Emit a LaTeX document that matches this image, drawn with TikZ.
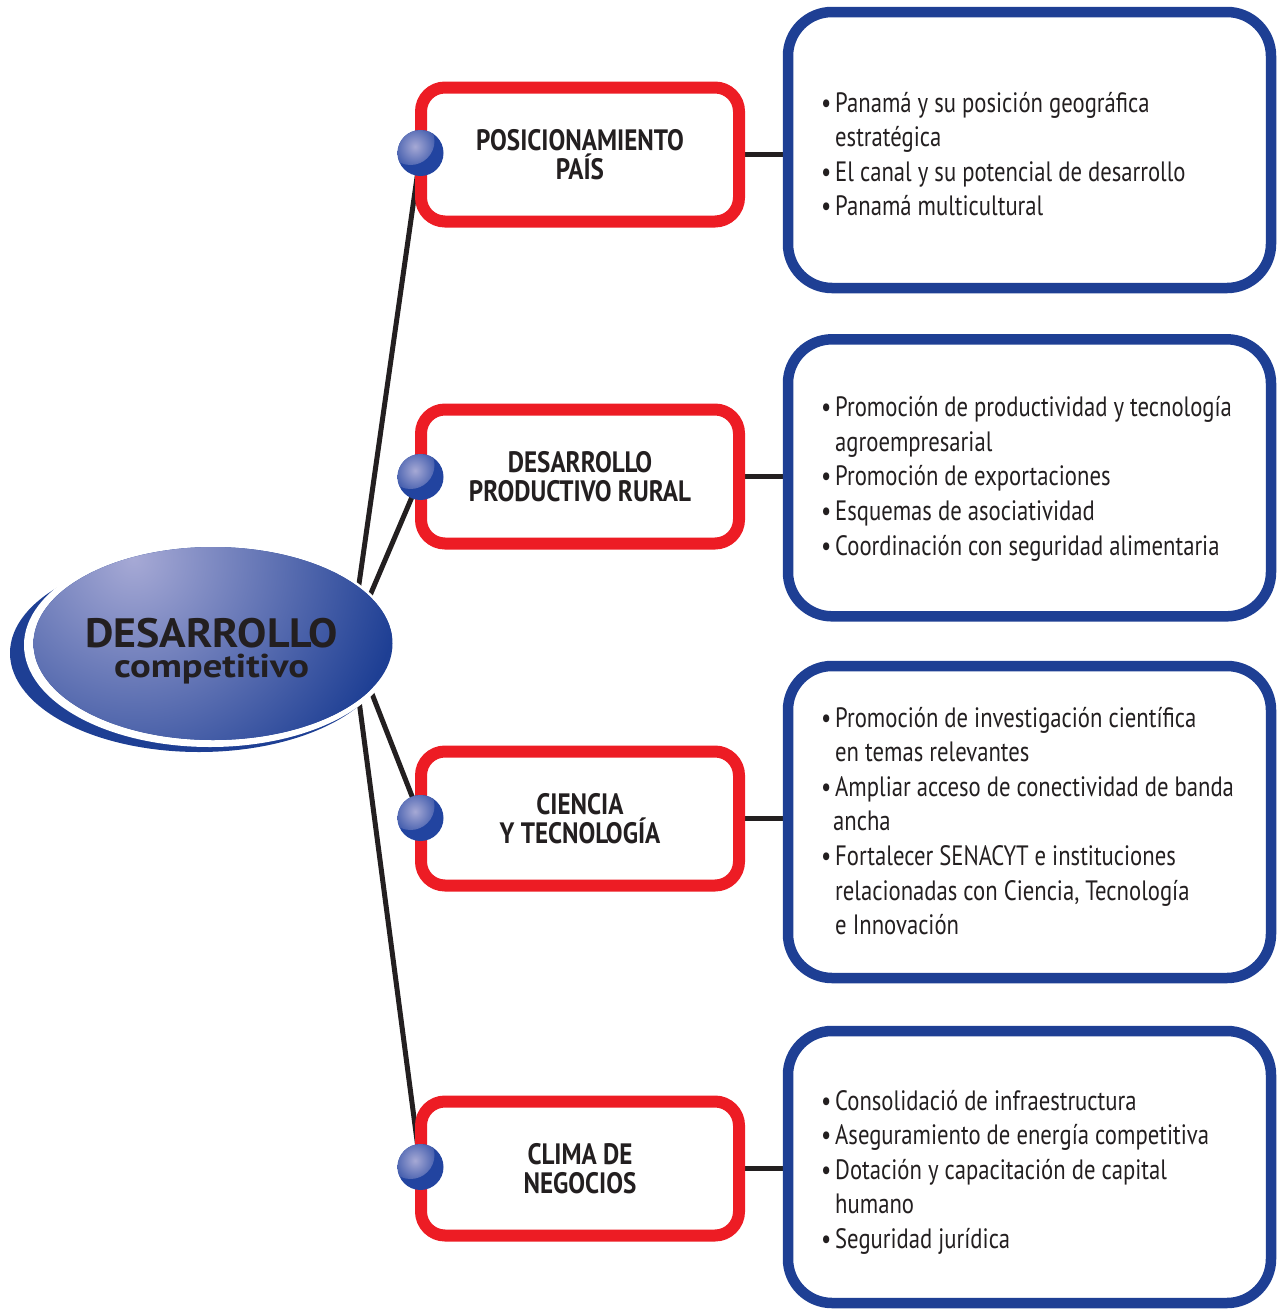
\documentclass[tikz,border=0pt]{standalone}
\usepackage{fontspec}
\setmainfont{PT Sans}
\newfontfamily\bodyf[FakeStretch=0.81]{PT Sans}
\newfontfamily\headf[FakeStretch=0.85]{PT Sans}
\newfontfamily\titlef[FakeStretch=1.07]{PT Sans}
\newfontfamily\subtf[FakeStretch=1.17]{PT Sans}
\usetikzlibrary{shapes.geometric,calc,backgrounds}
\definecolor{rbox}{HTML}{ED1C24}
\definecolor{bbox}{HTML}{1E3F94}
\definecolor{ink}{HTML}{231F20}
\definecolor{lightb}{HTML}{A6A9D5}
\definecolor{ballb}{HTML}{2244A0}
\newcommand\bl{\makebox[14pt][l]{\textbullet}}
\newcommand\ind{\hspace*{14pt}}
\begin{document}
\begin{tikzpicture}[x=1pt,y=-1pt,
  redbox/.style={draw=rbox, line width=12pt, rounded corners=24pt, minimum width=318pt, minimum height=134pt, fill=white, align=center, inner sep=0pt, font=\headf\bfseries\fontsize{29.5}{29}\selectfont, text=ink},
  bluebox/.style={draw=bbox, line width=10.5pt, rounded corners=44pt, minimum width=483pt, fill=white},
  items/.style={anchor=base west, inner sep=0pt, font=\bodyf\fontsize{28}{34.6}\selectfont, text=ink},
  link/.style={draw=ink, line width=5pt},
  ball/.style={circle, minimum size=46pt, inner sep=0pt, fill=ballb,
    path picture={\shade[inner color=lightb, outer color=ballb]
      ($(path picture bounding box.north west)+(13,11)$) circle [radius=24pt];}}]
\useasboundingbox (0,0) rectangle (1278,1310);

% blue detail boxes
\node[bluebox, minimum height=276pt] (b1) at (1029.5,150) {};
\node[bluebox, minimum height=277pt] (b2) at (1029.5,477.8) {};
\node[bluebox, minimum height=312pt] (b3) at (1029.5,822) {};
\node[bluebox, minimum height=272pt] (b4) at (1029.5,1167) {};

% red topic boxes
\node[redbox] (r1) at (580,154.5) {POSICIONAMIENTO\\PAÍS};
\node[redbox] (r2) at (580,476.5) {DESARROLLO\\PRODUCTIVO RURAL};
\node[redbox] (r3) at (580,818.5) {CIENCIA\\Y TECNOLOGÍA};
\node[redbox] (r4) at (580,1168.5) {CLIMA DE\\NEGOCIOS};

% item lists
\node[items] (l1) at (821,112) {\begin{tabular}[t]{@{}l@{}}
\bl Panamá y su posición geográfica\\
\ind estratégica\\
\bl El canal y su potencial de desarrollo\\
\bl Panamá multicultural\end{tabular}};
\node[items] (l2) at (821,416.7) {\begin{tabular}[t]{@{}l@{}}
\bl Promoción de productividad y tecnología\\
\ind agroempresarial\\
\bl Promoción de exportaciones\\
\bl Esquemas de asociatividad\\
\bl Coordinación con seguridad alimentaria\end{tabular}};
\node[items] (l3) at (821,727) {\begin{tabular}[t]{@{}l@{}}
\bl Promoción de investigación científica\\
\ind en temas relevantes\\
\bl Ampliar acceso de conectividad de banda\\
\hspace*{12pt}ancha\\
\bl Fortalecer SENACYT e instituciones\\
\ind relacionadas con Ciencia, Tecnología\\
\ind e Innovación\end{tabular}};
\node[items] (l4) at (821,1110) {\begin{tabular}[t]{@{}l@{}}
\bl Consolidació de infraestructura\\
\bl Aseguramiento de energía competitiva\\
\bl Dotación y capacitación de capital\\
\ind humano\\
\bl Seguridad jurídica\end{tabular}};

% spheres
\node[ball] (s1) at (420.5,153) {};
\node[ball] (s2) at (420.5,477) {};
\node[ball] (s3) at (420.5,818) {};
\node[ball] (s4) at (420.5,1167) {};

\coordinate (hub) at (351,640);

\begin{scope}[on background layer]
  \draw[link] (hub) -- (s1.center);
  \draw[link] (hub) -- (s2.center);
  \draw[link] (hub) -- (s3.center);
  \draw[link] (hub) -- (s4.center);
  \draw[link] (r1.east) -- (r1.east -| b1.west);
  \draw[link] (r2.east) -- (r2.east -| b2.west);
  \draw[link] (r3.east) -- (r3.east -| b3.west);
  \draw[link] (r4.east) -- (r4.east -| b4.west);
\end{scope}

% central ellipse
\fill[bbox] (199,653) ellipse [x radius=189, y radius=99];
\fill[white] (210,645) ellipse [x radius=186, y radius=102];
\node[ellipse, minimum width=359pt, minimum height=193pt, inner sep=0pt, fill=bbox,
  path picture={\shade[inner color=lightb, outer color=bbox]
     ($(path picture bounding box.north west)+(100,12)$) circle [radius=270pt];}] (core) at (213,643.5) {};
\node[anchor=base, inner sep=0pt, align=center, text=ink, font=\bfseries\fontsize{33}{30}\selectfont] (ctitle) at (211.5,677)
  {{\titlef\fontsize{41}{30}\selectfont DESARROLLO}\\{\subtf\fontsize{33}{30}\selectfont competitivo}};
\end{tikzpicture}
\end{document}
